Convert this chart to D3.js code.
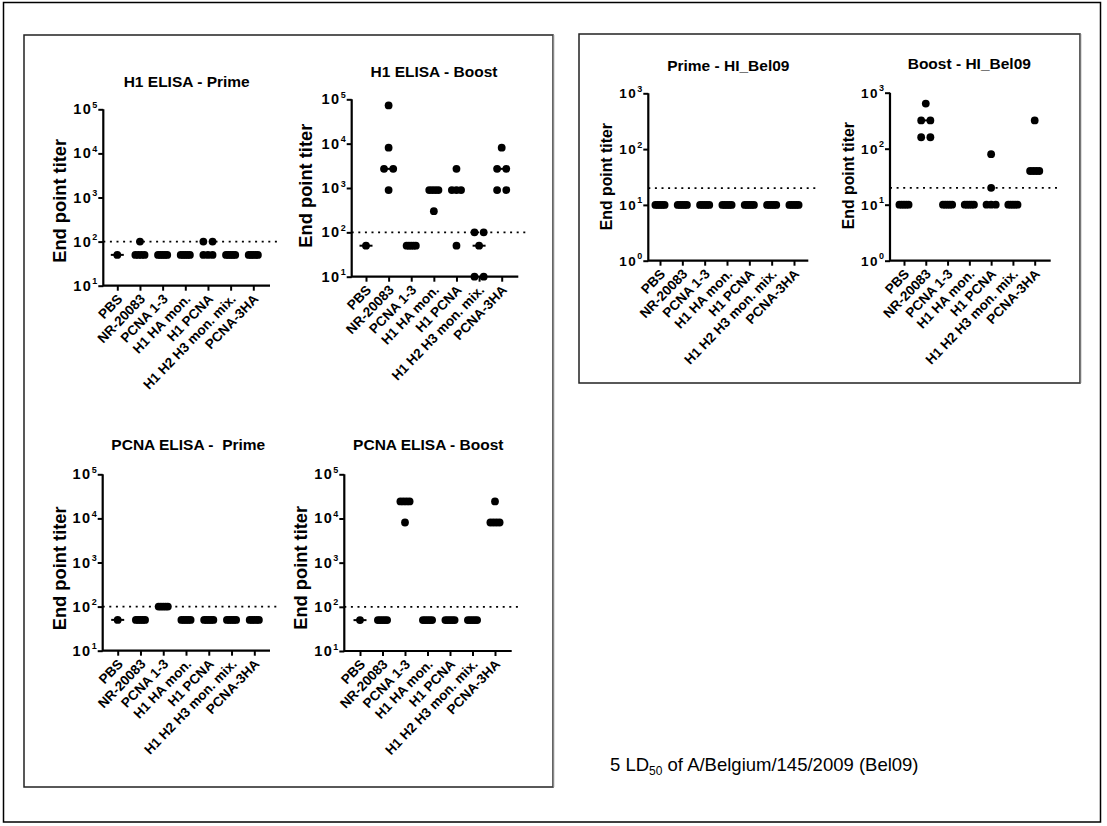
<!DOCTYPE html>
<html><head><meta charset="utf-8">
<script src="https://cdn.jsdelivr.net/npm/d3@7"></script>
<style>
body{margin:0;background:#fff}
text{font-family:"Liberation Sans",Arial,Helvetica,sans-serif;fill:#000}
</style>
</head><body>
<svg id="c" width="1107" height="826"></svg>
<script>
// ---------- data ----------
const categories = ["PBS","NR-20083","PCNA 1-3","H1 HA mon.","H1 PCNA","H1 H2 H3 mon. mix.","PCNA-3HA"];

const h1PrimeValues = [[50],[100,50,50,50,50],[50,50,50,50,50],[50,50,50,50,50],[100,100,50,50,50],[50,50,50,50,50],[50,50,50,50,50]];
const h1BoostValues = [[50],[72900,8100,2700,2700,900],[50,50,50,50,50],[900,900,900,900,300],[2700,900,900,900,50],[100,100,50,10,10],[8100,2700,2700,900,900]];
const pcnaPrimeValues = [[50],[50,50,50,50,50],[100,100,100,100,100],[50,50,50,50,50],[50,50,50,50,50],[50,50,50,50,50],[50,50,50,50,50]];
const pcnaBoostValues = [[50],[50,50,50,50,50],[24300,24300,24300,24300,8100],[50,50,50,50,50],[50,50,50,50,50],[50,50,50,50,50],[24300,8100,8100,8100,8100]];
const hiPrimeValues = [[10,10,10,10,10],[10,10,10,10,10],[10,10,10,10,10],[10,10,10,10,10],[10,10,10,10,10],[10,10,10,10,10],[10,10,10,10,10]];
const hiBoostValues = [[10,10,10,10,10],[640,320,320,160,160],[10,10,10,10,10],[10,10,10,10,10],[80,20,10,10,10],[10,10,10,10,10],[320,40,40,40,40]];

const elisaTicks = [10,100,1000,10000,100000];
const hiTicks = [1,10,100,1000];
const elisaCutoff = 100;
const hiCutoff = 20;
const yAxisLabel = "End point titer";
const footnote = {pre:"5 LD", sub:"50", post:" of A/Belgium/145/2009 (Bel09)"};

// ---------- layout ----------
const panels = [
  {title:"H1 ELISA - Prime", values:h1PrimeValues, ticks:elisaTicks, cutoff:elisaCutoff,
   x0:103.3, x1:270, yTop:109.3, yBot:285.7, fx:117.3, lx:253.3, tx:186.7, ty:87, lbx:59.3, lby:200.8, lfs:18.3, tfs:14.5},
  {title:"H1 ELISA - Boost", values:h1BoostValues, ticks:elisaTicks, cutoff:elisaCutoff,
   x0:351.7, x1:518.3, yTop:99.3, yBot:276.7, fx:366, lx:501.7, tx:434, ty:77, lbx:305, lby:185.7, lfs:18.3, tfs:14.5},
  {title:"Prime - HI_Bel09", values:hiPrimeValues, ticks:hiTicks, cutoff:hiCutoff,
   x0:648.3, x1:808.3, yTop:93.3, yBot:260.7, fx:660, lx:794, tx:728.3, ty:71, lbx:606.7, lby:176.7, lfs:15.8, tfs:13.5},
  {title:"Boost - HI_Bel09", values:hiBoostValues, ticks:hiTicks, cutoff:hiCutoff,
   x0:890, x1:1050.7, yTop:92.7, yBot:260.7, fx:904, lx:1034.7, tx:969.3, ty:68.5, lbx:848.3, lby:175.7, lfs:15.8, tfs:13.5},
  {title:"PCNA ELISA -  Prime", values:pcnaPrimeValues, ticks:elisaTicks, cutoff:elisaCutoff,
   x0:102.7, x1:270, yTop:474.3, yBot:650.7, fx:117.7, lx:254.3, tx:188.3, ty:450, lbx:59, lby:568.3, lfs:18.3, tfs:14.5},
  {title:"PCNA ELISA - Boost", values:pcnaBoostValues, ticks:elisaTicks, cutoff:elisaCutoff,
   x0:344.3, x1:511.7, yTop:474.3, yBot:651, fx:360, lx:495, tx:428.3, ty:450, lbx:300, lby:567.8, lfs:18.3, tfs:14.5}
];

const svg = d3.select("#c");

// frames
svg.append("rect").attr("x",3.5).attr("y",2.5).attr("width",1097).attr("height",819.5)
  .attr("fill","none").attr("stroke","#000").attr("stroke-width",1.5);
svg.append("rect").attr("x",24).attr("y",35).attr("width",529).attr("height",752)
  .attr("fill","none").attr("stroke","#222").attr("stroke-width",1.5);
svg.append("line").attr("x1",553.5).attr("x2",553.5).attr("y1",35).attr("y2",787)
  .attr("stroke","#888").attr("stroke-width",1.5);
svg.append("rect").attr("x",579).attr("y",34).attr("width",501).attr("height",349)
  .attr("fill","none").attr("stroke","#222").attr("stroke-width",1.5);
svg.append("line").attr("x1",1080.5).attr("x2",1080.5).attr("y1",34).attr("y2",383)
  .attr("stroke","#777").attr("stroke-width",1.5);

const R = 3.9;

panels.forEach(p => {
  const g = svg.append("g");
  const x = d3.scalePoint().domain(categories).range([p.fx, p.lx]);
  const y = d3.scaleLog().domain([p.ticks[0], p.ticks[p.ticks.length-1]]).range([p.yBot, p.yTop]);

  // title
  g.append("text").attr("x",p.tx).attr("y",p.ty).attr("text-anchor","middle")
    .attr("font-size",15.5).attr("font-weight","bold").attr("xml:space","preserve").text(p.title);

  // y label
  g.append("text").attr("transform",`translate(${p.lbx},${p.lby}) rotate(-90)`)
    .attr("text-anchor","middle").attr("dominant-baseline","central")
    .attr("font-size",p.lfs).attr("font-weight","bold").text(yAxisLabel);

  // cutoff dotted line
  g.append("line").attr("x1",p.x0).attr("x2",p.x1+10)
    .attr("y1",y(p.cutoff)).attr("y2",y(p.cutoff))
    .attr("stroke","#000").attr("stroke-width",1.6).attr("stroke-dasharray","2,4.6");

  // y axis ticks
  const ya = g.append("g").attr("transform",`translate(${p.x0},0)`)
    .call(d3.axisLeft(y).tickValues(p.ticks).tickSize(5).tickSizeOuter(0).tickFormat(""));
  ya.select(".domain").remove();
  ya.selectAll("line").attr("stroke","#000").attr("stroke-width",2);

  // tick labels with superscripts
  p.ticks.forEach(t => {
    const tx = g.append("text").attr("x",p.x0-6).attr("y",y(t)+5).attr("text-anchor","end")
      .attr("font-weight","bold").attr("font-size",p.tfs);
    tx.append("tspan").attr("letter-spacing",1.5).text("10");
    tx.append("tspan").attr("font-size",9).attr("dy",-6.5).text(String(Math.round(Math.log10(t))));
  });

  // x axis ticks
  const xa = g.append("g").attr("transform",`translate(0,${p.yBot})`)
    .call(d3.axisBottom(x).tickSize(5).tickSizeOuter(0).tickFormat(""));
  xa.select(".domain").remove();
  xa.selectAll("line").attr("stroke","#000").attr("stroke-width",2);

  // axis lines
  g.append("path").attr("d",`M${p.x0},${p.yTop}V${p.yBot}H${p.x1}`)
    .attr("fill","none").attr("stroke","#000").attr("stroke-width",2.2);

  // category labels
  categories.forEach(c => {
    g.append("text").attr("transform",`translate(${x(c)+6},${p.yBot+14}) rotate(-46)`)
      .attr("text-anchor","end").attr("font-size",13.5).attr("font-weight","bold").text(c);
  });

  // medians + dots
  categories.forEach((c,i) => {
    const vals = p.values[i];
    const med = d3.median(vals);
    g.append("line").attr("x1",x(c)-6.5).attr("x2",x(c)+6.5).attr("y1",y(med)).attr("y2",y(med))
      .attr("stroke","#000").attr("stroke-width",2);
    const groups = d3.rollups(vals, v => v.length, v => v);
    groups.forEach(([v,n]) => {
      for (let k=0;k<n;k++){
        const off = n===1 ? 0 : -4.6 + 9.2*k/(n-1);
        g.append("circle").attr("cx",x(c)+off).attr("cy",y(v)).attr("r",R).attr("fill","#000");
      }
    });
  });
});

// footnote
const ft = svg.append("text").attr("x",610).attr("y",771).attr("font-size",18.5).attr("xml:space","preserve");
ft.append("tspan").text(footnote.pre);
ft.append("tspan").attr("font-size",12).attr("dy",4).text(footnote.sub);
ft.append("tspan").attr("dy",-4).text(footnote.post);
</script>
</body></html>
